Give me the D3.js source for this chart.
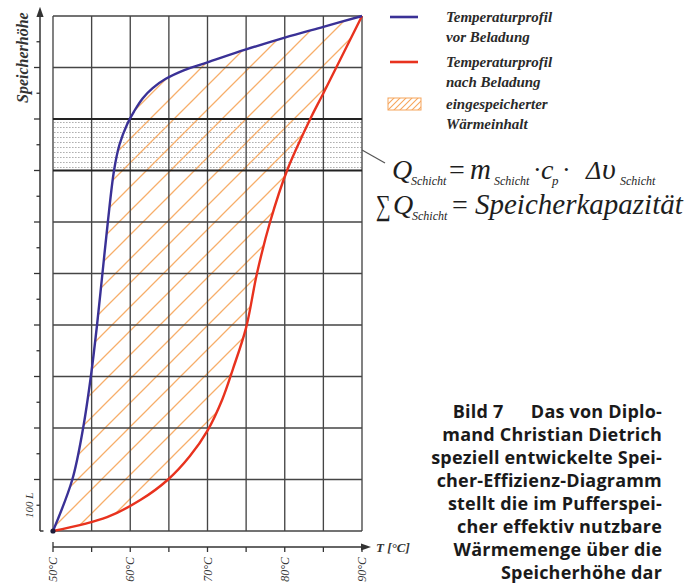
<!DOCTYPE html>
<html>
<head>
<meta charset="utf-8">
<script src="https://cdn.jsdelivr.net/npm/d3@7"></script>
<style>
body { margin: 0; background: #fff; }
svg { display: block; }
</style>
</head>
<body>
<div id="chart"></div>
<script>
// Speicherhöhe in Liter (0..1000), Temperatur in °C
var vorHeights = [0, 100, 200, 300, 400, 500, 600, 700, 750, 790, 815, 840, 860, 878, 895, 910, 935, 958, 979, 1000];
var vorTemps   = [50, 52.5, 53.9, 54.9, 55.7, 56.4, 57.1, 57.9, 58.6, 59.6, 60.5, 61.6, 62.9, 64.6, 67.0, 70.0, 75.0, 80.0, 85.0, 90];
var nachHeights = [0, 27, 60, 100, 145, 195, 255, 315, 395, 500, 600, 700, 800, 850, 1000];
var nachTemps   = [50, 57.0, 61.3, 64.9, 67.7, 70.0, 71.9, 73.3, 75.0, 76.4, 78.1, 80.3, 83.3, 85.0, 90];
var tempLabels = ["50°C", "60°C", "70°C", "80°C", "90°C"];
var tempTicks = [50, 60, 70, 80, 90];
var schichtBand = [700, 800];
var legendItems = [
  {type: "line", color: "#3a3196", lines: ["Temperaturprofil", "vor Beladung"]},
  {type: "line", color: "#e8321e", lines: ["Temperaturprofil", "nach Beladung"]},
  {type: "hatch", color: "#f6a55c", lines: ["eingespeicherter", "Wärmeinhalt"]}
];
var captionLines = [
  "Bild 7\u2003\u2002Das von Diplo-",
  "mand Christian Dietrich",
  "speziell entwickelte Spei-",
  "cher-Effizienz-Diagramm",
  "stellt die im Pufferspei-",
  "cher effektiv nutzbare",
  "Wärmemenge über die",
  "Speicherhöhe dar"
];

var vor = vorHeights.map(function(h, i) { return {h: h, t: vorTemps[i]}; });
var nach = nachHeights.map(function(h, i) { return {h: h, t: nachTemps[i]}; });

var width = 686, height = 585;
var serif = "'Liberation Serif', 'DejaVu Serif', serif";

var svg = d3.select("#chart").append("svg")
  .attr("width", width)
  .attr("height", height);

var x = d3.scaleLinear().domain([50, 90]).range([53, 362]);
var y = d3.scaleLinear().domain([0, 1000]).range([531, 16]);
var curve = d3.curveCatmullRom.alpha(0.5);

var defs = svg.append("defs");

// schraffur
var hatch = defs.append("pattern")
  .attr("id", "hatch")
  .attr("patternUnits", "userSpaceOnUse")
  .attr("width", 24).attr("height", 24)
  .attr("x", 5).attr("y", 0);
hatch.append("path")
  .attr("d", "M-6,6L6,-6M0,24L24,0M18,30L30,18")
  .attr("stroke", "#f7ae6a")
  .attr("stroke-width", 1.3);

var hatchSmall = defs.append("pattern")
  .attr("id", "hatchSmall")
  .attr("patternUnits", "userSpaceOnUse")
  .attr("width", 6).attr("height", 6);
hatchSmall.append("path")
  .attr("d", "M-2,2L2,-2M0,6L6,0M4,8L8,4")
  .attr("stroke", "#f6a55c")
  .attr("stroke-width", 1.1);

// punktraster der schicht
var dots = defs.append("pattern")
  .attr("id", "dots")
  .attr("patternUnits", "userSpaceOnUse")
  .attr("width", 3).attr("height", 5)
  .attr("y", y(schichtBand[1]) + 3);
dots.append("rect")
  .attr("width", 1.6).attr("height", 1)
  .attr("fill", "#b0b0b0");

// maske: links von "nach" minus links von "vor"
var leftArea = function(data) {
  return d3.area()
    .y(function(d) { return y(d.h); })
    .x0(x(50) - 10)
    .x1(function(d) { return x(d.t); })
    .curve(curve)(data);
};
var mask = defs.append("mask").attr("id", "between");
mask.append("path").attr("d", leftArea(nach)).attr("fill", "#fff");
mask.append("path").attr("d", leftArea(vor)).attr("fill", "#000");

// schicht band
svg.append("rect")
  .attr("x", x(50)).attr("y", y(schichtBand[1]))
  .attr("width", x(90) - x(50))
  .attr("height", y(schichtBand[0]) - y(schichtBand[1]))
  .attr("fill", "url(#dots)");

// schraffierte fläche
svg.append("rect")
  .attr("x", x(50)).attr("y", y(1000))
  .attr("width", x(90) - x(50))
  .attr("height", y(0) - y(1000))
  .attr("fill", "url(#hatch)")
  .attr("mask", "url(#between)");

// gitter
var grid = svg.append("g").attr("stroke", "#454545").attr("stroke-width", 1.35);
grid.selectAll(".v")
  .data(d3.range(50, 91, 5))
  .enter().append("line")
  .attr("x1", function(d) { return x(d); })
  .attr("x2", function(d) { return x(d); })
  .attr("y1", y(0)).attr("y2", y(1000));
grid.selectAll(".h")
  .data(d3.range(0, 1001, 100))
  .enter().append("line")
  .attr("x1", x(50)).attr("x2", x(90))
  .attr("y1", function(d) { return y(d); })
  .attr("y2", function(d) { return y(d); })
  .attr("stroke", function(d) { return schichtBand.indexOf(d) >= 0 ? "#222" : null; })
  .attr("stroke-width", function(d) { return schichtBand.indexOf(d) >= 0 ? 2 : null; });

// kurven
var line = d3.line()
  .x(function(d) { return x(d.t); })
  .y(function(d) { return y(d.h); })
  .curve(curve);

svg.append("path").attr("d", line(nach))
  .attr("fill", "none").attr("stroke", "#e8321e").attr("stroke-width", 2.4);
svg.append("path").attr("d", line(vor))
  .attr("fill", "none").attr("stroke", "#3a3196").attr("stroke-width", 2.4);

svg.append("circle")
  .attr("cx", x(50)).attr("cy", y(0)).attr("r", 2.6)
  .attr("fill", "#1c1c3a");

// achsen
var axisColor = "#333";
defs.append("marker")
  .attr("id", "arrow")
  .attr("viewBox", "0 0 10 10")
  .attr("refX", 5).attr("refY", 5)
  .attr("markerWidth", 7).attr("markerHeight", 7)
  .attr("orient", "auto")
  .append("path").attr("d", "M0,1.5L10,5L0,8.5Z").attr("fill", axisColor);

var yAxisX = 40;
svg.append("line")
  .attr("x1", yAxisX).attr("x2", yAxisX)
  .attr("y1", y(0)).attr("y2", 12)
  .attr("stroke", axisColor).attr("stroke-width", 1.5)
  .attr("marker-end", "url(#arrow)");
svg.append("line")
  .attr("x1", yAxisX).attr("x2", yAxisX + 3.5)
  .attr("y1", y(0)).attr("y2", y(0))
  .attr("stroke", axisColor).attr("stroke-width", 1.5);
svg.selectAll(".ytick")
  .data(d3.range(50, 951, 50))
  .enter().append("line")
  .attr("x1", function(d) { return d % 100 === 0 ? yAxisX - 6 : yAxisX - 3.5; })
  .attr("x2", yAxisX)
  .attr("y1", function(d) { return y(d); })
  .attr("y2", function(d) { return y(d); })
  .attr("stroke", axisColor).attr("stroke-width", 1.3);

var xAxisY = 547;
svg.append("line")
  .attr("x1", x(50)).attr("x2", 366)
  .attr("y1", xAxisY).attr("y2", xAxisY)
  .attr("stroke", axisColor).attr("stroke-width", 1.5)
  .attr("marker-end", "url(#arrow)");
svg.selectAll(".xtick")
  .data(d3.range(50, 91, 5))
  .enter().append("line")
  .attr("x1", function(d) { return x(d); })
  .attr("x2", function(d) { return x(d); })
  .attr("y1", function(d) { return d === 50 ? xAxisY - 5 : xAxisY; })
  .attr("y2", xAxisY + 5)
  .attr("stroke", axisColor).attr("stroke-width", 1.3);

svg.selectAll(".xlabel")
  .data(tempTicks)
  .enter().append("text")
  .attr("transform", function(d) { return "translate(" + (x(d) + 4) + "," + 557 + ") rotate(-90)"; })
  .attr("text-anchor", "end")
  .attr("font-family", serif).attr("font-style", "italic")
  .attr("font-size", 12).attr("fill", "#333")
  .text(function(d, i) { return tempLabels[i]; });

svg.append("text")
  .attr("x", 376).attr("y", 552)
  .attr("font-family", serif).attr("font-style", "italic").attr("font-weight", "bold")
  .attr("font-size", 13).attr("fill", "#333")
  .text("T [°C]");

svg.append("text")
  .attr("transform", "translate(33," + ((y(0) + y(100)) / 2) + ") rotate(-90)")
  .attr("text-anchor", "middle")
  .attr("font-family", serif).attr("font-style", "italic")
  .attr("font-size", 11).attr("fill", "#333")
  .text("100 L");

svg.append("text")
  .attr("transform", "translate(28,103) rotate(-90)")
  .attr("font-family", serif).attr("font-style", "italic").attr("font-weight", "bold")
  .attr("font-size", 16).attr("fill", "#333")
  .text("Speicherhöhe");

// legende
var legendY = [17, 62, 104];
var legend = svg.append("g");
legendItems.forEach(function(item, i) {
  if (item.type === "line") {
    legend.append("line")
      .attr("x1", 390).attr("x2", 418)
      .attr("y1", legendY[i]).attr("y2", legendY[i])
      .attr("stroke", item.color).attr("stroke-width", 2.6);
  } else {
    legend.append("rect")
      .attr("x", 388).attr("y", legendY[i] - 6)
      .attr("width", 33).attr("height", 12)
      .attr("fill", "url(#hatchSmall)")
      .attr("stroke", item.color).attr("stroke-width", 1);
  }
  item.lines.forEach(function(t, j) {
    legend.append("text")
      .attr("x", 446).attr("y", legendY[i] + 5 + j * 20)
      .attr("font-family", serif).attr("font-style", "italic").attr("font-weight", "bold")
      .attr("font-size", 15).attr("fill", "#2a2a2a")
      .text(t);
  });
});

// formel
svg.append("line")
  .attr("x1", x(90)).attr("y1", 150)
  .attr("x2", 385).attr("y2", 163)
  .attr("stroke", "#555").attr("stroke-width", 1.2);

var formula = svg.append("g")
  .attr("font-family", serif).attr("fill", "#1e1e1e");
function piece(txt, px, py, size, italic) {
  return formula.append("text")
    .attr("x", px).attr("y", py)
    .attr("font-size", size)
    .attr("font-style", italic ? "italic" : "normal")
    .text(txt);
}
var b1 = 179, b2 = 214;
piece("Q", 392, b1, 28, true);
piece("Schicht", 411, b1 + 6, 12, true);
piece("=", 449, b1, 28, false);
piece("m", 470, b1, 29, true);
piece("Schicht", 494, b1 + 6, 12, true);
piece("·", 533, b1 - 1, 26, false);
piece("c", 541, b1, 28, true);
piece("p", 552, b1 + 6, 13, true);
piece("·", 562, b1 - 1, 26, false);
piece("Δ", 586, b1, 26, true);
piece("υ", 602, b1, 30, true);
piece("Schicht", 620, b1 + 6, 12, true);

// summenzeichen schmal und hoch
piece("∑", 0, 0, 29, false)
  .attr("transform", "translate(376," + (b2 + 1) + ") scale(0.72,1)");
piece("Q", 393, b2, 28, true);
piece("Schicht", 412, b2 + 6, 12, true);
piece("=", 452, b2, 28, false);
piece("Speicherkapazität", 475, b2, 29, true);

// bildunterschrift
var caption = svg.append("g")
  .attr("font-family", "'Open Sans', 'Noto Sans', sans-serif")
  .attr("font-weight", "bold")
  .attr("font-size", 18)
  .attr("letter-spacing", 0.2)
  .attr("fill", "#1a1a1a")
  .attr("text-anchor", "end");
caption.selectAll("text")
  .data(captionLines)
  .enter().append("text")
  .attr("x", 662)
  .attr("y", function(d, i) { return 418 + i * 23; })
  .text(function(d) { return d; });
</script>
</body>
</html>
